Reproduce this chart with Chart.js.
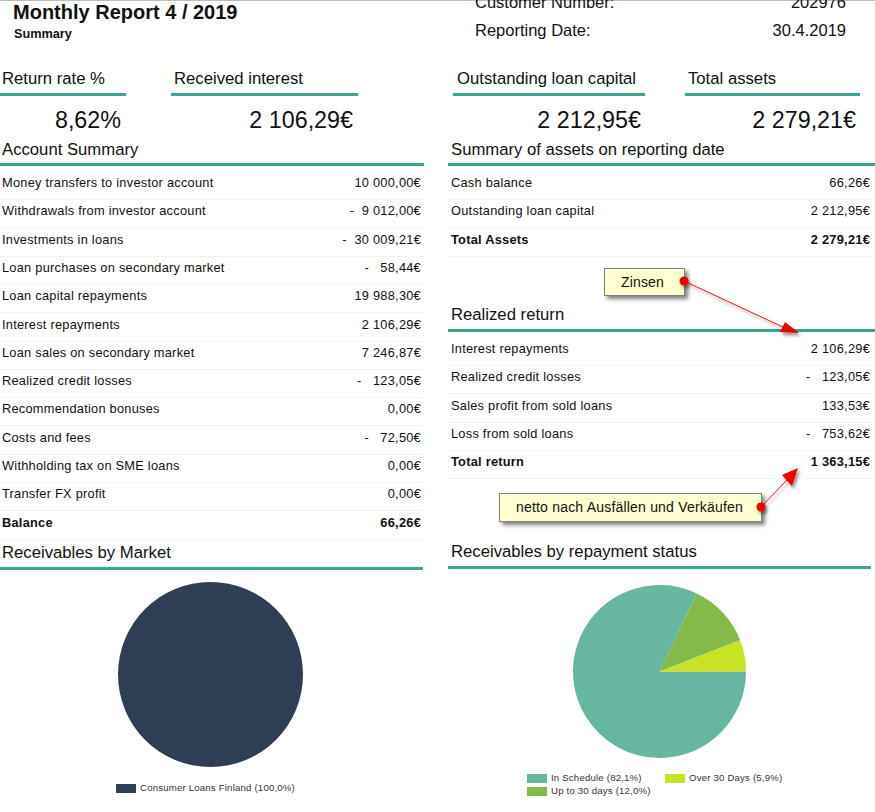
<!DOCTYPE html>
<html>
<head>
<meta charset="utf-8">
<script src="https://cdn.jsdelivr.net/npm/chart.js@4"></script>
<style>
  html, body { margin: 0; padding: 0; background: #fff; }
  body { width: 875px; height: 812px; overflow: hidden; position: relative; font-family: "Liberation Sans", Arial, sans-serif; color: #111; }
  .t { position: absolute; white-space: pre; line-height: 20px; height: 20px; }
  .r { text-align: right; }
  .bar { position: absolute; height: 3px; background: #3aa690; }
  .top { position: absolute; height: 1px; background: #bdbdbd; }
  .sep { position: absolute; height: 1px; background: #f3f2ed; }
  .row { letter-spacing: 0.25px; }
  .b { font-weight: bold; }
  .note { position: absolute; box-sizing: border-box; background: #ffffd2; border: 1px solid #808080; box-shadow: 3px 3px 4px rgba(0,0,0,.5); font-size: 14px; text-align: center; letter-spacing: .2px; }
  .swatch { position: absolute; height: 9px; width: 20px; }
  .leg { letter-spacing: .2px; color: #333; }
  canvas { position: absolute; }
  svg { position: absolute; left: 0; top: 0; z-index: 5; }
</style>
</head>
<body>
<canvas id="marketPie"></canvas>
<canvas id="statusPie"></canvas>
<svg width="875" height="812" id="arrows">
  <defs><filter id="sh" x="-30%" y="-30%" width="170%" height="170%"><feDropShadow dx="2" dy="3" stdDeviation="1.5" flood-opacity=".4"/></filter></defs>
  <g filter="url(#sh)">
    <line x1="684" y1="281" x2="785" y2="328" stroke="#f01010" stroke-width="1"/>
    <polygon points="799,333 785,322 780,332" fill="#f00000"/>
    <line x1="761" y1="507" x2="787" y2="480" stroke="#f01010" stroke-width="1"/>
    <polygon points="798,468 782,475 792,486" fill="#f00000"/>
    <circle cx="684" cy="281" r="4.5" fill="#f00000"/>
    <circle cx="761" cy="507" r="4.5" fill="#f00000"/>
  </g>
</svg>
<script>
const accountLabels = ['Money transfers to investor account', 'Withdrawals from investor account', 'Investments in loans', 'Loan purchases on secondary market', 'Loan capital repayments', 'Interest repayments', 'Loan sales on secondary market', 'Realized credit losses', 'Recommendation bonuses', 'Costs and fees', 'Withholding tax on SME loans', 'Transfer FX profit', 'Balance'];
const accountValues = ['10 000,00€', '-  9 012,00€', '-  30 009,21€', '-   58,44€', '19 988,30€', '2 106,29€', '7 246,87€', '-   123,05€', '0,00€', '-   72,50€', '0,00€', '0,00€', '66,26€'];
const assetLabels = ['Cash balance', 'Outstanding loan capital', 'Total Assets'];
const assetValues = ['66,26€', '2 212,95€', '2 279,21€'];
const returnLabels = ['Interest repayments', 'Realized credit losses', 'Sales profit from sold loans', 'Loss from sold loans', 'Total return'];
const returnValues = ['2 106,29€', '-   123,05€', '133,53€', '-   753,62€', '1 363,15€'];
const marketLabels = ['Consumer Loans Finland'];
const marketValues = [100.0];
const statusLabels = ['In Schedule', 'Up to 30 days', 'Over 30 Days'];
const statusValues = [82.1, 12.0, 5.9];
const marketColors = ['#2d3e55'];
const statusColors = ['#66b6a0', '#84ba4a', '#c8e321'];

const HEAD = 16.7;
const KPI = 23.3;
const ROW = 12.8;
const LEG = 9.6;

// --- Funzioni di utility ---
function addText(text, x, y, size, opts = {}) {
  const el = document.createElement('div');
  el.className = 't ' + (opts.cls || '');
  el.textContent = text;
  el.style.top = (y - 10) + 'px';
  el.style.fontSize = size + 'px';
  if (opts.right) {
    el.classList.add('r');
    el.style.right = (875 - x) + 'px';
  } else {
    el.style.left = x + 'px';
  }
  document.body.appendChild(el);
}

function addBox(cls, x, y, w) {
  const el = document.createElement('div');
  el.className = cls;
  el.style.left = x + 'px';
  el.style.top = y + 'px';
  el.style.width = w + 'px';
  document.body.appendChild(el);
}

// L'ultima riga di ogni tabella è il totale, in grassetto
function addRows(labels, values, x, right, yStart, step) {
  labels.forEach((label, i) => {
    const y = yStart + i * step;
    const bold = i === labels.length - 1 ? ' b' : '';
    addText(label, x, y, ROW, { cls: 'row' + bold });
    addText(values[i], right, y, ROW, { cls: 'row' + bold, right: true });
    addBox('sep', x - 3, Math.round(y + 16), right - x + 5);
  });
}

function addNote(text, x, y, w, h, pad) {
  const el = document.createElement('div');
  el.className = 'note';
  el.textContent = text;
  el.style.cssText = `left:${x}px;top:${y}px;width:${w}px;height:${h}px;line-height:${h - 2}px;padding-right:${pad}px`;
  document.body.appendChild(el);
}

function addLegendItem(label, value, color, x, y) {
  const sw = document.createElement('div');
  sw.className = 'swatch';
  sw.style.cssText = `left:${x}px;top:${y - 4}px;background:${color}`;
  document.body.appendChild(sw);
  addText(`${label} (${value.toFixed(1).replace('.', ',')}%)`, x + 24, y, LEG, { cls: 'leg' });
}

function drawPie(id, labels, values, colors, left, top, size) {
  const canvas = document.getElementById(id);
  canvas.style.left = left + 'px';
  canvas.style.top = top + 'px';
  canvas.width = canvas.height = size;
  canvas.style.width = canvas.style.height = size + 'px';
  return new Chart(canvas.getContext('2d'), {
    type: 'pie',
    data: { labels, datasets: [{ data: values, backgroundColor: colors, borderWidth: 0 }] },
    options: {
      responsive: false,
      animation: false,
      rotation: 90,
      layout: { padding: 0 },
      plugins: { legend: { display: false }, tooltip: { enabled: false } }
    }
  });
}

// --- Intestazione ---
addBox('top', 0, 0, 875);
addText('Monthly Report 4 / 2019', 13, 12, 20, { cls: 'b' });
addText('Summary', 14, 34, 12.7, { cls: 'b' });
addText('Customer Number:', 475, 1.5, 16.5);
addText('202976', 846, 1.5, 16.5, { right: true });
addText('Reporting Date:', 475, 30, 16.5);
addText('30.4.2019', 846, 30, 16.5, { right: true });

// --- Indicatori ---
addText('Return rate %', 2, 79, HEAD);
addBox('bar', 0, 93, 126);
addText('8,62%', 121, 120, KPI, { right: true });
addText('Received interest', 174, 79, HEAD);
addBox('bar', 171, 93, 187);
addText('2 106,29€', 353, 120, KPI, { right: true });
addText('Outstanding loan capital', 457, 79, HEAD);
addBox('bar', 453, 93, 192);
addText('2 212,95€', 641, 120, KPI, { right: true });
addText('Total assets', 688, 79, HEAD);
addBox('bar', 685, 93, 175);
addText('2 279,21€', 856, 120, KPI, { right: true });

// --- Tabelle ---
addText('Account Summary', 2, 150, HEAD);
addBox('bar', 0, 163, 424);
addRows(accountLabels, accountValues, 2, 421, 183, 28.3);
addText('Summary of assets on reporting date', 451, 150, HEAD);
addBox('bar', 448, 163, 427);
addRows(assetLabels, assetValues, 451, 870, 183, 28.3);
addText('Realized return', 451, 315, HEAD);
addBox('bar', 448, 329, 427);
addRows(returnLabels, returnValues, 451, 870, 349, 28.3);

// --- Note ---
addNote('Zinsen', 604, 268, 81, 28, 4);
addNote('netto nach Ausfällen und Verkäufen', 499, 493, 263, 29, 2);

// --- Grafici a torta ---
addText('Receivables by Market', 2, 553, HEAD);
addBox('bar', 0, 567, 423);
addText('Receivables by repayment status', 451, 552, HEAD);
addBox('bar', 448, 566, 423);
drawPie('marketPie', marketLabels, marketValues, marketColors, 118, 582, 185);
drawPie('statusPie', statusLabels, statusValues, statusColors, 573, 585, 173);
addLegendItem(marketLabels[0], marketValues[0], marketColors[0], 116, 788);
addLegendItem(statusLabels[0], statusValues[0], statusColors[0], 527, 778);
addLegendItem(statusLabels[1], statusValues[1], statusColors[1], 527, 791);
addLegendItem(statusLabels[2], statusValues[2], statusColors[2], 665, 778);
</script>
</body>
</html>
